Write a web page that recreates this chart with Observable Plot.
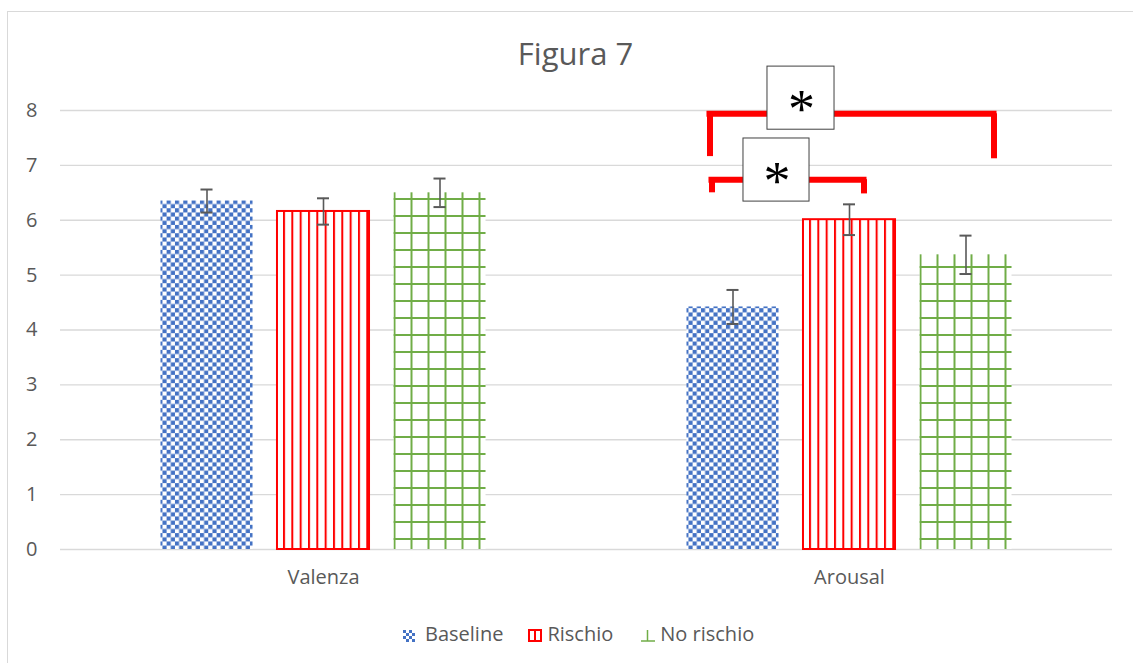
<!DOCTYPE html>
<html><head><meta charset="utf-8">
<script src="https://cdn.jsdelivr.net/npm/d3@7"></script>
<script src="https://cdn.jsdelivr.net/npm/@observablehq/plot@0.6"></script>
<style>
body{margin:0;background:#fff;font-family:"Open Sans",sans-serif;}
#wrap{position:relative;width:1133px;height:663px;overflow:hidden;background:#fff;}
#frame{position:absolute;left:7px;top:11px;width:1140px;height:670px;border:1px solid #d9d9d9;box-sizing:border-box;}
#chart{position:absolute;left:0;top:0;}
#title{position:absolute;top:32px;left:0;width:1151px;text-align:center;font-size:31px;color:#595959;line-height:normal;}
#legend{position:absolute;left:403px;top:620px;display:flex;align-items:center;font-size:20px;color:#595959;line-height:normal;white-space:nowrap;}
#legend .item{display:flex;align-items:center;}
#legend svg{display:block;}
</style></head>
<body>
<div id="wrap">
  <div id="frame"></div>
  <div id="chart"></div>
  <div id="title">Figura 7</div>
  <div id="legend"></div>
</div>
<script>
// ---- data ----
const categories = ["Valenza", "Arousal"];
const series = ["Baseline", "Rischio", "No rischio"];
const valenzaMeans = [6.35, 6.16, 6.50];
const arousalMeans = [4.42, 6.01, 5.37];
const valenzaErrors = [0.21, 0.24, 0.26];
const arousalErrors = [0.31, 0.28, 0.35];
const yTicks = [0, 1, 2, 3, 4, 5, 6, 7, 8];
// significance annotations (data units)
const sigBig = {category: "Arousal", from: "Baseline", to: "No rischio", y: 7.94, yEndLeft: 7.16, yEndRight: 7.12, boxLow: 7.65, boxHigh: 8.80, label: "*"};
const sigSmall = {category: "Arousal", from: "Baseline", to: "Rischio", y: 6.74, yEndLeft: 6.50, yEndRight: 6.48, boxLow: 6.34, boxHigh: 7.49, label: "*"};

const meansBy = {Valenza: valenzaMeans, Arousal: arousalMeans};
const errorsBy = {Valenza: valenzaErrors, Arousal: arousalErrors};
const rows = [];
for (const c of categories) series.forEach((s, i) => rows.push({category: c, series: s, mean: meansBy[c][i], err: errorsBy[c][i]}));
const bySeries = s => rows.filter(d => d.series === s);

const red = "#FF0000", green = "#70AD47", blue = "#4472C4", gray = "#595959";

const chart = Plot.plot({
  width: 1133, height: 600,
  marginTop: 110, marginBottom: 51, marginLeft: 60, marginRight: 21,
  style: {fontFamily: "Open Sans", fontSize: "20px", color: gray, background: "transparent", overflow: "visible"},
  fx: {domain: categories, padding: 0, round: false, axis: "bottom", label: null, tickSize: 0, tickPadding: 20},
  x: {domain: series, paddingInner: 0.21, paddingOuter: 0.8625, round: false, axis: null},
  y: {domain: [0, 8], ticks: yTicks, tickSize: 0, tickPadding: 23, label: null, tickFormat: d => String(d)},
  marks: [
    Plot.ruleY(yTicks, {stroke: "#d9d9d9", strokeWidth: 1.3}),
    Plot.barY(bySeries("Baseline"), {fx: "category", x: "series", y1: d => 0, y2: "mean", fill: "url(#pBase)"}),
    Plot.barY(bySeries("Rischio"), {fx: "category", x: "series", y1: d => 0, y2: "mean", fill: "url(#pRisk)", stroke: red, strokeWidth: 2}),
    Plot.barY(bySeries("No rischio"), {fx: "category", x: "series", y1: d => 0, y2: "mean", fill: "url(#pNo)"}),
    Plot.ruleX(rows, {fx: "category", x: "series", y1: d => d.mean - d.err, y2: d => d.mean + d.err, stroke: gray, strokeWidth: 1.6}),
    Plot.tickY(rows, {fx: "category", x: "series", y: d => d.mean + d.err, insetLeft: 40, insetRight: 40, stroke: gray, strokeWidth: 2}),
    Plot.tickY(rows, {fx: "category", x: "series", y: d => d.mean - d.err, insetLeft: 40, insetRight: 40, stroke: gray, strokeWidth: 2}),
    // big bracket
    Plot.ruleY([sigBig], {fx: "category", x1: "from", x2: "to", y: "y", insetLeft: 23, insetRight: 18, stroke: red, strokeWidth: 6, strokeLinecap: "square"}),
    Plot.ruleX([sigBig], {fx: "category", x: "from", y1: "y", y2: "yEndLeft", dx: -23, stroke: red, strokeWidth: 6}),
    Plot.ruleX([sigBig], {fx: "category", x: "to", y1: "y", y2: "yEndRight", dx: 28, stroke: red, strokeWidth: 6}),
    // small bracket
    Plot.ruleY([sigSmall], {fx: "category", x1: "from", x2: "to", y: "y", insetLeft: 25, insetRight: 31.5, stroke: red, strokeWidth: 6, strokeLinecap: "square"}),
    Plot.ruleX([sigSmall], {fx: "category", x: "from", y1: "y", y2: "yEndLeft", dx: -21, stroke: red, strokeWidth: 6}),
    Plot.ruleX([sigSmall], {fx: "category", x: "to", y1: "y", y2: "yEndRight", dx: 14.5, stroke: red, strokeWidth: 6}),
    // boxes
    Plot.barY([sigBig], {fx: "category", x: "from", y1: "boxLow", y2: "boxHigh", insetLeft: 80.5, insetRight: -55.5, fill: "white", stroke: "#404040", strokeWidth: 1}),
    Plot.barY([sigSmall], {fx: "category", x: "from", y1: "boxLow", y2: "boxHigh", insetLeft: 56.5, insetRight: -30.5, fill: "white", stroke: "#404040", strokeWidth: 1}),
    Plot.text([sigBig], {fx: "category", x: "from", y: d => (d.boxLow + d.boxHigh) / 2, text: "label", dx: 68.5, dy: 12, fontSize: 54, fontFamily: "Liberation Serif", fill: "black"}),
    Plot.text([sigSmall], {fx: "category", x: "from", y: d => (d.boxLow + d.boxHigh) / 2, text: "label", dx: 44, dy: 12, fontSize: 54, fontFamily: "Liberation Serif", fill: "black"})
  ]
});

d3.select(chart).insert("defs", ":first-child").html(`
  <pattern id="pBase" patternUnits="userSpaceOnUse" x="0" y="0" width="8.33" height="8.33">
    <rect width="8.33" height="8.33" fill="#fff"/>
    <rect x="0" y="0" width="4.17" height="4.17" fill="${blue}"/>
    <rect x="4.17" y="4.17" width="4.17" height="4.17" fill="${blue}"/>
  </pattern>
  <pattern id="pRisk" patternUnits="userSpaceOnUse" x="283" y="0" width="8.33" height="10">
    <rect width="8.33" height="10" fill="#fff"/>
    <rect x="0" y="0" width="2" height="10" fill="${red}"/>
  </pattern>
  <pattern id="pNo" patternUnits="userSpaceOnUse" x="393.5" y="11" width="17" height="17">
    <rect width="17" height="17" fill="#fff"/>
    <rect x="0" y="0" width="2" height="17" fill="${green}"/>
    <rect x="0" y="0" width="17" height="2" fill="${green}"/>
  </pattern>`);
document.getElementById("chart").appendChild(chart);

// legend
const legendIcons = {
  "Baseline": `<svg width="12" height="12"><defs><pattern id="lBase" patternUnits="userSpaceOnUse" width="6" height="6"><rect width="6" height="6" fill="#fff"/><rect width="3" height="3" fill="${blue}"/><rect x="3" y="3" width="3" height="3" fill="${blue}"/></pattern></defs><rect width="12" height="12" fill="url(#lBase)"/></svg>`,
  "Rischio": `<svg width="14" height="13"><rect x="1" y="1" width="12" height="11" fill="#fff" stroke="${red}" stroke-width="2"/><rect x="6" y="1" width="2" height="11" fill="${red}"/></svg>`,
  "No rischio": `<svg width="14" height="13"><line x1="6.5" y1="1" x2="6.5" y2="12" stroke="${green}" stroke-width="1.5"/><line x1="0" y1="12" x2="14" y2="12" stroke="${green}" stroke-width="1.5"/></svg>`
};
const gaps = [{icon: 10, after: 25}, {icon: 5, after: 28}, {icon: 5, after: 0}];
const legend = document.getElementById("legend");
series.forEach((s, i) => {
  const item = document.createElement("div");
  item.className = "item";
  item.style.marginRight = gaps[i].after + "px";
  item.innerHTML = `<span style="margin-right:${gaps[i].icon}px;margin-top:4px">${legendIcons[s]}</span><span>${s}</span>`;
  legend.appendChild(item);
});
</script>
</body></html>
